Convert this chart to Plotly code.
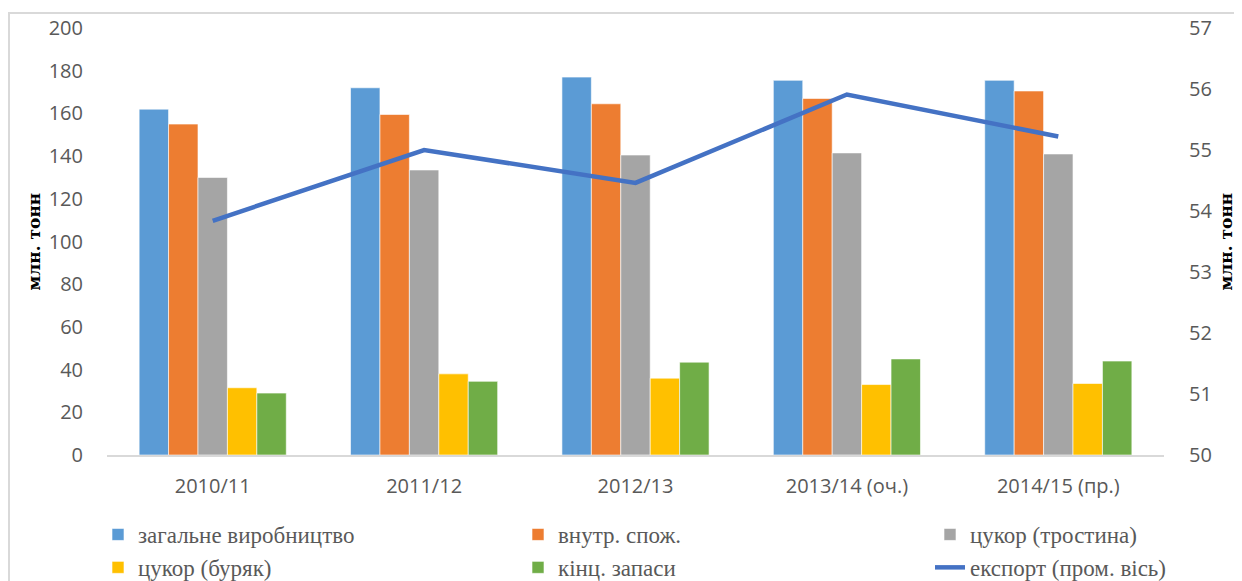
import plotly.graph_objects as go

categories = ["2010/11", "2011/12", "2012/13", "2013/14 (оч.)", "2014/15 (пр.)"]
production = [162, 172, 177, 175.5, 175.5]
consumption = [155, 159.5, 164.5, 167, 170.5]
cane = [130, 133.5, 140.5, 141.5, 141]
beet = [31.5, 38, 36, 33, 33.5]
stocks = [29, 34.5, 43.5, 45, 44]
export = [53.84, 55.0, 54.46, 55.91, 55.22]

names = ["загальне виробництво", "внутр. спож.", "цукор (тростина)", "цукор (буряк)", "кінц. запаси"]
colors = ["#5B9BD5", "#ED7D31", "#A5A5A5", "#FFC000", "#70AD47"]
legends = ["legend", "legend2", "legend3", "legend", "legend2"]
series = [production, consumption, cane, beet, stocks]

W, H = 1242, 581
OFF = 8  # page body margin
L, R, T, B = 107 - OFF, 1164 - OFF, 28 - OFF, 455 - OFF
pw, ph = R - L, B - T

def px(x):
    return (x - OFF - L) / pw

def py(y):
    return (B - (y - OFF)) / ph

fig = go.Figure()
for i, (n, c, lg, s) in enumerate(zip(names, colors, legends, series)):
    fig.add_trace(go.Bar(x=categories, y=s, name=n,
                         marker=dict(color=c, line=dict(color="rgba(255,255,255,0.6)", width=1)),
                         legend=lg, legendgroup=f"g{i}", yaxis="y"))
fig.add_trace(go.Scatter(x=categories, y=export, name="експорт (пром. вісь)", mode="lines",
                         line=dict(color="#4472C4", width=4.5), legend="legend3", legendgroup="g5", yaxis="y2"))

tickfont = dict(family="Open Sans", size=20, color="#595959")
legfont = dict(family="Liberation Sans Narrow", size=23, color="#595959")
legcommon = dict(orientation="v", yanchor="top", y=py(513), font=legfont, bgcolor="rgba(0,0,0,0)",
                 tracegroupgap=4, traceorder="normal", itemwidth=30)
titlefont = dict(family="DejaVu Serif", size=17, color="black", weight="bold")

fig.update_layout(
    width=W, height=H,
    margin=dict(l=L, r=W - R, t=T, b=H - B, autoexpand=False),
    paper_bgcolor="white", plot_bgcolor="white",
    barmode="group", bargap=0.304, bargroupgap=0,
    xaxis=dict(showgrid=False, showline=True, linecolor="#D9D9D9", linewidth=1.5, ticks="",
               tickfont=tickfont, ticklabelstandoff=12, automargin=False),
    yaxis=dict(range=[0, 200], dtick=20, showgrid=False, zeroline=False, showline=False,
               tickfont=tickfont, ticklabelstandoff=23, automargin=False),
    yaxis2=dict(range=[50, 57], dtick=1, overlaying="y", side="right", showgrid=False, zeroline=False,
                showline=False, tickfont=tickfont, ticklabelstandoff=24, automargin=False),
    legend=dict(x=px(98), xanchor="left", **legcommon),
    legend2=dict(x=px(518), xanchor="left", **legcommon),
    legend3=dict(x=px(930), xanchor="left", **legcommon),
    shapes=[dict(type="rect", xref="paper", yref="paper", x0=px(9), x1=px(1270), y0=py(610), y1=py(13),
                 line=dict(color="#D9D9D9", width=2), fillcolor="rgba(0,0,0,0)", layer="below")],
    annotations=[
        dict(text="млн. тонн", xref="paper", yref="paper", x=px(33), y=0.5, textangle=-90, showarrow=False,
             font=titlefont, xanchor="center", yanchor="middle"),
        dict(text="млн. тонн", xref="paper", yref="paper", x=px(1225), y=0.5, textangle=-90, showarrow=False,
             font=titlefont, xanchor="center", yanchor="middle"),
    ],
)

fig.write_html("out.html")
